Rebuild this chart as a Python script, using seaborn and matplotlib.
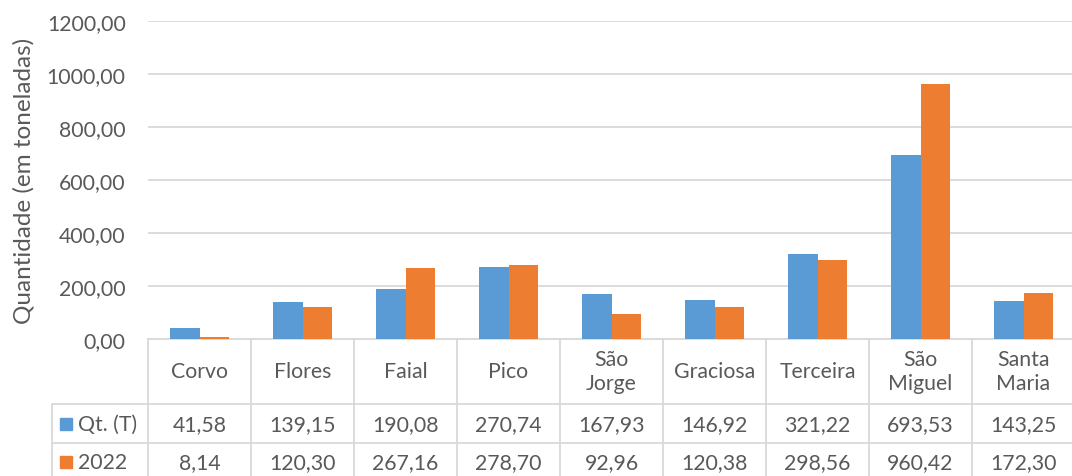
import pandas as pd
import matplotlib.pyplot as plt
import seaborn as sns
from matplotlib.ticker import FuncFormatter

# ilhas e quantidades (toneladas)
ilhas = ["Corvo", "Flores", "Faial", "Pico", "São\nJorge", "Graciosa",
         "Terceira", "São\nMiguel", "Santa\nMaria"]
series = ["Qt. (T)", "2022"]
qt_t = [41.58, 139.15, 190.08, 270.74, 167.93, 146.92, 321.22, 693.53, 143.25]
ano_2022 = [8.14, 120.30, 267.16, 278.70, 92.96, 120.38, 298.56, 960.42, 172.30]
cores = ["#5B9BD5", "#ED7D31"]

df = pd.DataFrame({
    "ilha": ilhas * 2,
    "serie": [series[0]] * len(ilhas) + [series[1]] * len(ilhas),
    "valor": qt_t + ano_2022,
})

sns.set_style("white")
plt.rcParams['font.family'] = ['Lato', 'DejaVu Sans']
txt = "#595959"
grid = "#D9D9D9"
fs = 15.3

W, H = 1072, 477
fig = plt.figure(figsize=(W / 100, H / 100), dpi=100)
left, right, top, bottom = 148, 1075, 21.7, 340
ax = fig.add_axes([left / W, (H - bottom) / H, (right - left) / W, (bottom - top) / H])

sns.barplot(df, x="ilha", y="valor", hue="serie", palette=cores, width=0.57,
            order=ilhas, hue_order=series, legend=False, ax=ax, saturation=1,
            linewidth=0, zorder=3)

ax.set_ylim(0, 1200)
ax.set_xlim(-0.5, len(ilhas) - 0.5)
ax.set_yticks(range(0, 1201, 200))
ax.yaxis.set_major_formatter(FuncFormatter(lambda v, p: f"{v:.2f}".replace(".", ",")))
ax.tick_params(axis="y", colors=txt, labelsize=fs, length=0, pad=16)
ax.set_xticks([])
ax.set_xlabel("")
ax.set_ylabel("Quantidade (em toneladas)", color=txt, fontsize=17.5)
ax.yaxis.set_label_coords((35 - left) / (right - left), 0.5)
ax.grid(axis="y", color=grid, lw=1.3)
ax.set_axisbelow(True)
for s in ["top", "left", "right"]:
    ax.spines[s].set_visible(False)
ax.spines["bottom"].set_color(grid)
ax.spines["bottom"].set_linewidth(1.3)
ax.spines["bottom"].set_zorder(1)

# tabela de dados
ah = bottom - top
px = (right - left) / len(ilhas)
tr = ax.get_xaxis_transform()
def fy(ypx):
    return -(ypx - bottom) / ah
x_lab = -0.5 - (left - 52) / px
y_h, y_r1, y_end = fy(405), fy(444), fy(485)
for i in range(len(ilhas) + 1):
    ax.plot([i - 0.5, i - 0.5], [0, y_end], color=grid, lw=1.3, transform=tr, clip_on=False)
ax.plot([x_lab, x_lab], [y_h, y_end], color=grid, lw=1.3, transform=tr, clip_on=False)
for yy in [y_h, y_r1]:
    ax.plot([x_lab, len(ilhas) - 0.5], [yy, yy], color=grid, lw=1.3, transform=tr, clip_on=False)

fmt = lambda v: f"{v:.2f}".replace(".", ",")
for i, nome in enumerate(ilhas):
    ax.text(i, fy(372), nome, ha="center", va="center", color=txt, fontsize=fs,
            transform=tr, linespacing=1.2)
    ax.text(i, fy(425), fmt(qt_t[i]), ha="center", va="center", color=txt, fontsize=fs, transform=tr)
    ax.text(i, fy(463), fmt(ano_2022[i]), ha="center", va="center", color=txt, fontsize=fs, transform=tr)

for nome, cor, yc in zip(series, cores, [425, 463]):
    fig.patches.append(plt.Rectangle((60 / W, (H - yc - 6) / H), 12 / W, 12 / H,
                                     color=cor, transform=fig.transFigure))
    fig.text(78 / W, (H - yc) / H, nome, ha="left", va="center", color=txt, fontsize=fs)

fig.savefig("out.png", dpi=100)
